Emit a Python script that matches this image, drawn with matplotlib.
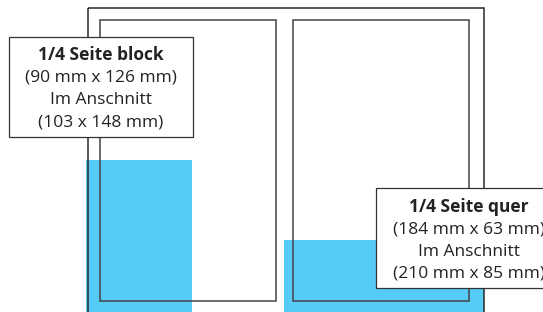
import matplotlib

matplotlib.use("Agg")
import matplotlib.pyplot as plt
from matplotlib.patches import Rectangle

W, H = 543, 312
BLUE = "#56cbf5"
INK = "#2a2a2a"

# schematic layout in pixel units (x0, y0, x1, y1), y grows downwards
spread = (87.5, 8, 484, 330)
pages = [(100, 19.5, 276, 301), (292.5, 19.5, 468.5, 301)]
ads = [(86, 160, 192, 330), (284, 240, 484, 330)]

titles = ["1/4 Seite block", "1/4 Seite quer"]
sizes = ["(90 mm x 126 mm)", "(184 mm x 63 mm)"]
bleed_label = "Im Anschnitt"
bleeds = ["(103 x 148 mm)", "(210 mm x 85 mm)"]
boxes = [(8.5, 36.5, 193, 136.5), (376, 188, 560, 288)]
centres = [100.5, 469]

plt.rcParams["font.family"] = ["Open Sans", "DejaVu Sans"]

fig = plt.figure(figsize=(W / 100, H / 100), dpi=100)
ax = fig.add_axes([0, 0, 1, 1])
ax.set_xlim(0, W)
ax.set_ylim(H, 0)
ax.axis("off")


def rect(b, **kw):
    x0, y0, x1, y1 = b
    return Rectangle((x0, y0), x1 - x0, y1 - y0, **kw)


for b in ads:
    ax.add_patch(rect(b, facecolor=BLUE, edgecolor="none", zorder=1))

ax.add_patch(rect(spread, facecolor="none", edgecolor=INK, lw=1.1, zorder=2))
for b in pages:
    ax.add_patch(rect(b, facecolor="none", edgecolor="#444444", lw=1.1, zorder=2))

for i, b in enumerate(boxes):
    ax.add_patch(rect(b, facecolor="white", edgecolor="#333333", lw=0.9, zorder=3))
    y0 = b[1]
    cx = centres[i]
    ax.text(cx, y0 + 19, titles[i], ha="center", va="center", fontsize=12.5,
            fontweight="bold", color="#222222", zorder=4)
    for k, s in enumerate([sizes[i], bleed_label, bleeds[i]], start=1):
        ax.text(cx, y0 + 19 + 22.3 * k, s, ha="center", va="center",
                fontsize=12.5, color="#222222", zorder=4)

fig.savefig("out.png", dpi=100)
